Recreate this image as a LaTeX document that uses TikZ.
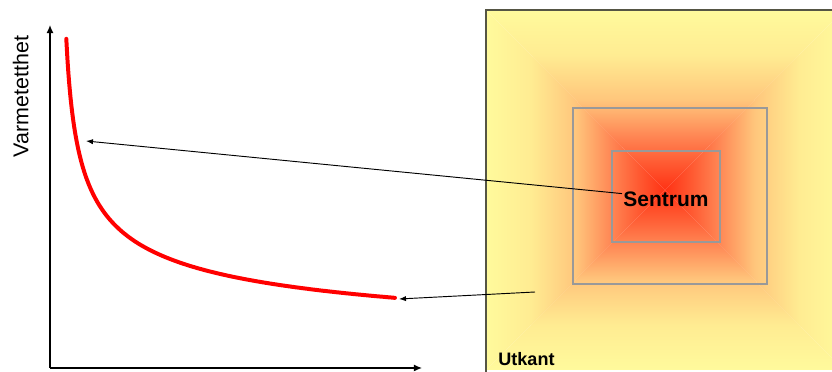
\documentclass[tikz,border=0pt]{standalone}
\usepackage{fontspec}
\setmainfont{Liberation Sans}
\usetikzlibrary{arrows.meta}

\definecolor{kantgul}{RGB}{255,250,156}
\definecolor{lysgul}{RGB}{255,236,146}
\definecolor{lysoransje}{RGB}{255,198,124}
\definecolor{oransje}{RGB}{255,134,84}
\definecolor{roedoransje}{RGB}{255,90,50}
\definecolor{kjerne}{RGB}{255,50,20}
\definecolor{rammegraa}{RGB}{153,153,153}
\definecolor{kantstrek}{RGB}{85,85,68}

% overgang fra kanten (venstre) inn mot sentrum (hoyre)
\pgfdeclarehorizontalshading{gloed}{100bp}{%
  color(0bp)=(kantgul); color(25bp)=(kantgul); color(37.5bp)=(lysgul);
  color(50bp)=(lysoransje); color(60bp)=(oransje); color(67.5bp)=(roedoransje);
  color(75bp)=(kjerne); color(100bp)=(kjerne)}

\begin{document}
\begin{tikzpicture}[
    x=0.03cm, y=0.03cm,
    akse/.style={line width=1.1pt, -{Latex[length=7pt,width=6pt]}},
    pil/.style={line width=0.8pt, -{Latex[length=6pt,width=4.5pt]}},
    ramme/.style={draw=rammegraa, line width=1.7pt},
    felt/.style={shading=gloed, shading angle=#1},
  ]
  \useasboundingbox (0,0) rectangle (832,372);

  \def\kx{665}   % sentrum av feltet
  \def\ky{182}

  % ---- feltet: fire trekanter som mottes i sentrum --------------------------
  \begin{scope}
    \clip (0,0) rectangle (832,372);
    \shade[felt=0]   (486,2) -- (486,362) -- (\kx,\ky) -- cycle;
    \shade[felt=180] (844,2) -- (844,362) -- (\kx,\ky) -- cycle;
    \shade[felt=270] (486,362) -- (844,362) -- (\kx,\ky) -- cycle;
    \shade[felt=90]  (486,2) -- (844,2) -- (\kx,\ky) -- cycle;
    \draw[kantstrek, line width=1pt] (486,0) -- (486,362) -- (832,362);
  \end{scope}

  % ---- de to sonene ----------------------------------------------------------
  \draw[ramme] (573,88) rectangle (767,264);
  \draw[ramme] (612,130) rectangle (720,221);

  \node[anchor=base west, inner sep=1pt, font=\fontsize{17.9}{20}\selectfont\bfseries]
    (sentrum) at (622,165) {Sentrum};
  \node[anchor=base west, inner sep=1pt, font=\fontsize{15.4}{18}\selectfont\bfseries]
    (utkant) at (497,6) {Utkant};

  % ---- aksene ------------------------------------------------------------------
  \coordinate (origo) at (50,4);
  \coordinate (ytopp) at (50,347);
  \coordinate (xende) at (422,4);
  \draw[akse] (origo) -- (ytopp);
  \draw[akse] (origo) -- (xende);
  \node[rotate=90, anchor=base, inner sep=0pt, font=\fontsize{18.3}{22}\selectfont]
    (ylabel) at (28.3,275.5) {Varmetetthet};

  % ---- kurven --------------------------------------------------------------------
  \draw[red, line width=3.4pt, line cap=round] plot[domain=66.3:395, samples=300, smooth]
    (\x, {668*exp(-0.378*ln(\x-60))});

  % ---- pilene fra feltet til kurven ------------------------------------------
  \coordinate (hoy) at (86,231);
  \coordinate (lav) at (399,73);
  \coordinate (kantpkt) at (535,80);
  \draw[pil] (sentrum.172) -- (hoy);
  \draw[pil] (kantpkt) -- (lav);

\end{tikzpicture}
\end{document}
